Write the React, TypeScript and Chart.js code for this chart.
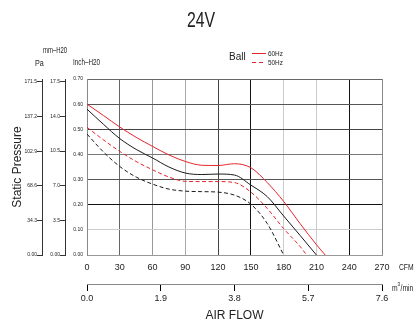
import React, { useEffect, useRef } from 'react';
import { Chart, registerables } from 'chart.js';

Chart.register(...registerables);

// ---- data ----
const m3minTicks = [0, 1.9, 3.8, 5.7, 7.6];
const paTicks = [0, 34.3, 68.6, 102.9, 137.2, 171.5];
const mmTicks = [0, 3.5, 7.0, 10.5, 14.0, 17.5];

const hz60RedX = [0, 15, 30, 45, 60, 75, 90, 105, 120, 135, 150, 165, 180, 195, 210, 218];
const hz60RedY = [0.6, 0.555, 0.509, 0.468, 0.432, 0.398, 0.372, 0.357, 0.356, 0.363, 0.347, 0.288, 0.213, 0.125, 0.041, 0.0];

const hz60BlackX = [0, 15, 30, 45, 60, 75, 90, 105, 120, 135, 150, 165, 180, 195, 210];
const hz60BlackY = [0.58, 0.52, 0.463, 0.42, 0.386, 0.35, 0.326, 0.32, 0.322, 0.318, 0.278, 0.232, 0.155, 0.078, 0.0];

const hz50RedX = [0, 15, 30, 45, 60, 75, 90, 105, 120, 135, 150, 165, 180, 195, 201];
const hz50RedY = [0.508, 0.458, 0.412, 0.372, 0.339, 0.31, 0.293, 0.292, 0.292, 0.288, 0.25, 0.185, 0.105, 0.034, 0.0];

const hz50BlackX = [0, 15, 30, 45, 60, 75, 90, 105, 120, 135, 150, 165, 180];
const hz50BlackY = [0.481, 0.41, 0.352, 0.31, 0.282, 0.262, 0.254, 0.252, 0.25, 0.238, 0.202, 0.125, 0.0];

// ---- styles ----
const RED = '#e3242b';
const BLACK = '#1a1a1a';
const NARROW = "'Liberation Sans Narrow', 'Arial Narrow', Arial, sans-serif";
const SANS = "Arial, 'Liberation Sans', sans-serif";

const xGridColors: Record<number, string> = {
  0: '#888', 30: '#666', 60: '#999', 90: '#aaa', 120: '#444',
  150: '#111', 180: '#ccc', 210: '#ccc', 240: '#111', 270: '#888',
};
const yGridColors: Record<number, string> = {
  0: '#999', 1: '#ccc', 2: '#111', 3: '#555', 4: '#777', 5: '#444', 6: '#555', 7: '#666',
};

const toPts = (xs: number[], ys: number[]) => xs.map((x, i) => ({ x, y: ys[i] }));

const textPlugin = {
  id: 'extraText',
  afterDraw(chart: any) {
    const { ctx, chartArea } = chart;
    const draw = (t: string, x: number, y: number, font: string, align: CanvasTextAlign, sx = 1) => {
      ctx.save();
      ctx.translate(x, y);
      ctx.scale(sx, 1);
      ctx.font = font;
      ctx.textAlign = align;
      ctx.textBaseline = 'middle';
      ctx.fillStyle = '#222';
      ctx.fillText(t, 0, 0);
      ctx.restore();
    };
    draw('24V', 201, 21, `22px ${SANS}`, 'center', 0.72);
    draw('mm\u2013H20', 43, 51, `9px ${SANS}`, 'left', 0.66);
    draw('Pa', 35, 64, `9px ${SANS}`, 'left', 0.8);
    draw('Inch\u2013H20', 73, 63, `9px ${SANS}`, 'left', 0.7);
    draw('Ball', 229, 57.5, `10px ${SANS}`, 'left');
    draw('60Hz', 268, 54, `8px ${SANS}`, 'left', 0.8);
    draw('50Hz', 268, 62.5, `8px ${SANS}`, 'left', 0.8);
    draw('CFM', chartArea.right + 17, 267.5, `9px ${SANS}`, 'left', 0.75);
    draw('m', chartArea.right + 10, 289, `9px ${SANS}`, 'left', 0.75);
    draw('3', chartArea.right + 15.5, 284.5, `6px ${SANS}`, 'left', 0.8);
    draw('/min', chartArea.right + 18.5, 289, `9px ${SANS}`, 'left', 0.75);
    // legend samples
    ctx.save();
    ctx.lineWidth = 1;
    ctx.strokeStyle = RED;
    ctx.beginPath();
    ctx.moveTo(252, 53.5);
    ctx.lineTo(266, 53.5);
    ctx.stroke();
    ctx.setLineDash([4, 3]);
    ctx.beginPath();
    ctx.moveTo(252, 62.5);
    ctx.lineTo(266, 62.5);
    ctx.stroke();
    ctx.restore();
  },
};

export default function App() {
  const ref = useRef<HTMLCanvasElement>(null);
  useEffect(() => {
    if (!ref.current) return;
    const tickFont = { size: 9, family: NARROW };
    const tinyFont = { size: 5, family: SANS };
    const chart = new Chart(ref.current, {
      type: 'line',
      data: {
        datasets: [
          { label: '60Hz', data: toPts(hz60RedX, hz60RedY), borderColor: RED, borderWidth: 1 },
          { label: '60Hz black', data: toPts(hz60BlackX, hz60BlackY), borderColor: BLACK, borderWidth: 1 },
          { label: '50Hz', data: toPts(hz50RedX, hz50RedY), borderColor: RED, borderWidth: 1, borderDash: [4, 2.5] },
          { label: '50Hz black', data: toPts(hz50BlackX, hz50BlackY), borderColor: BLACK, borderWidth: 1, borderDash: [4, 2.5] },
        ].map((d) => ({ ...d, xAxisID: 'x', yAxisID: 'y', pointRadius: 0, fill: false, cubicInterpolationMode: 'monotone' as const })),
      },
      options: {
        animation: false,
        responsive: false,
        devicePixelRatio: 1,
        layout: { padding: { left: 0, right: 34, top: 79, bottom: 0 } },
        plugins: { legend: { display: false }, tooltip: { enabled: false }, title: { display: false } },
        scales: {
          x: {
            type: 'linear', position: 'bottom', min: 0, max: 270, weight: 0,
            ticks: { stepSize: 30, font: tickFont, color: '#222', padding: 7, maxRotation: 0, autoSkip: false },
            grid: { drawTicks: false, lineWidth: 1, color: (c: any) => xGridColors[Math.round(c.tick?.value ?? 0)] || '#999' },
            border: { display: true, color: '#999' },
            afterFit: (s: any) => { s.height = 29; },
          },
          x2: {
            type: 'linear', position: 'bottom', min: 0, max: 7.6, weight: 1,
            afterBuildTicks: (s: any) => { s.ticks = m3minTicks.map((v) => ({ value: v })); },
            ticks: { font: tickFont, color: '#222', padding: 2, maxRotation: 0, autoSkip: false, callback: (v: any) => Number(v).toFixed(1) },
            grid: { drawOnChartArea: false, tickLength: 7, color: '#000', tickColor: '#000' },
            border: { display: true, color: '#888' },
            title: { display: true, text: 'AIR FLOW', color: '#222', font: { size: 12, family: SANS, lineHeight: 1 }, padding: { top: 0, bottom: 0 } },
            afterFit: (s: any) => { s.height = 38; },
          },
          y: {
            type: 'linear', position: 'left', min: 0, max: 0.7, weight: 0,
            ticks: { stepSize: 0.1, font: tinyFont, color: '#222', padding: 4, callback: (v: any) => Number(v).toFixed(2) },
            grid: { drawTicks: false, lineWidth: 1, color: (c: any) => yGridColors[Math.round((c.tick?.value ?? 0) * 10)] || '#999' },
            border: { display: true, color: '#888' },
            afterFit: (s: any) => { s.width = 22; },
          },
          yMm: {
            type: 'linear', position: 'left', min: 0, max: 17.78, weight: 1,
            afterBuildTicks: (s: any) => { s.ticks = mmTicks.map((v) => ({ value: v })); },
            ticks: { font: tinyFont, color: '#222', padding: 0, callback: (v: any) => (v === 0 ? '0.00' : Number(v).toFixed(1)) },
            grid: { drawOnChartArea: false, tickLength: 5, color: '#333' },
            border: { display: true, color: '#333' },
            afterFit: (s: any) => { s.width = 23; },
          },
          yPa: {
            type: 'linear', position: 'left', min: 0, max: 174.36, weight: 2,
            afterBuildTicks: (s: any) => { s.ticks = paTicks.map((v) => ({ value: v })); },
            ticks: { font: tinyFont, color: '#222', padding: 0, callback: (v: any) => (v === 0 ? '0.00' : Number(v).toFixed(1)) },
            grid: { drawOnChartArea: false, tickLength: 5, color: '#333' },
            border: { display: true, color: '#333' },
            title: { display: true, text: 'Static Pressure', color: '#222', font: { size: 12, family: SANS }, padding: { top: 10, bottom: 0 } },
            afterFit: (s: any) => { s.width = 42; },
          },
        },
      } as any,
      plugins: [textPlugin],
    });
    return () => chart.destroy();
  }, []);
  return (
    <div style={{ position: 'absolute', left: 0, top: 0, width: 416, height: 322, background: '#fff' }}>
      <canvas ref={ref} width={416} height={322} style={{ display: 'block', width: 416, height: 322 }} />
    </div>
  );
}
